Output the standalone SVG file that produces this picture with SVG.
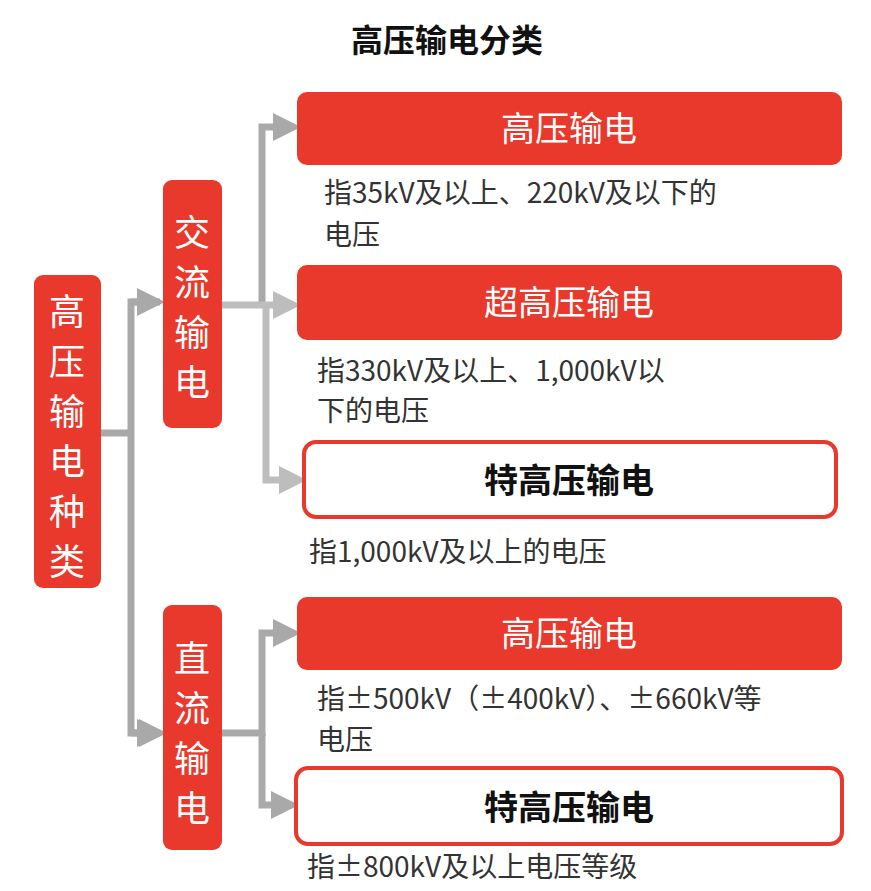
<svg xmlns="http://www.w3.org/2000/svg" width="871" height="891" viewBox="0 0 871 891">
<style>
.f{fill:#e8392c}
.o{fill:#fff;stroke:#e8392c;stroke-width:4}
text{font-family:"Noto Sans CJK SC","Liberation Sans",sans-serif}
.w{fill:#fff;font-size:34px;text-anchor:middle}
.b{fill:#111;font-size:34px;font-weight:bold;text-anchor:middle}
.d{fill:#333;font-size:28px}
.v{fill:#fff;font-size:36px;text-anchor:middle}
.c1{stroke:#a9a9a9;stroke-width:7;fill:none}
.c2{stroke:#bdbdbd;stroke-width:7;fill:none}
</style>
<defs>
<marker id="a" markerWidth="4" markerHeight="4" refX="3" refY="2" orient="auto"><path d="M0,0L4,2L0,4z" fill="#a9a9a9"/></marker>
<marker id="b" markerWidth="4" markerHeight="4" refX="3" refY="2" orient="auto"><path d="M0,0L4,2L0,4z" fill="#bdbdbd"/></marker>
</defs>
<rect width="871" height="891" fill="#fff"/>
<text x="447" y="52" font-size="32" font-weight="bold" text-anchor="middle" fill="#111">高压输电分类</text>
<g id="connectors">
<path class="c1" d="M101,433H131M131,433V302H160M131,433V733H160" marker-end="url(#a)"/>
<path class="c1" d="M131,302H158" marker-end="url(#a)"/>
<path class="c1" d="M131,733H158" marker-end="url(#a)"/>
<path class="c1" d="M262,305V127H294" marker-end="url(#a)"/>
<path class="c2" d="M222,305H294" marker-end="url(#b)"/>
<path class="c2" d="M266,305V480H300" marker-end="url(#b)"/>
<path class="c1" d="M222,733H262V633H294" marker-end="url(#a)"/>
<path class="c1" d="M262,733V805H292" marker-end="url(#a)"/>
</g>
<g id="root"><rect class="f" x="34" y="275" width="67" height="313" rx="9"/>
<text class="v" x="67" y="325">高</text><text class="v" x="67" y="375">压</text><text class="v" x="67" y="425">输</text><text class="v" x="67" y="475">电</text><text class="v" x="67" y="525">种</text><text class="v" x="67" y="575">类</text></g>
<g id="ac"><rect class="f" x="163" y="180" width="59" height="248" rx="9"/>
<text class="v" x="192" y="246">交</text><text class="v" x="192" y="296">流</text><text class="v" x="192" y="346">输</text><text class="v" x="192" y="396">电</text></g>
<g id="dc"><rect class="f" x="163" y="605" width="59" height="245" rx="9"/>
<text class="v" x="192" y="672">直</text><text class="v" x="192" y="722">流</text><text class="v" x="192" y="772">输</text><text class="v" x="192" y="822">电</text></g>
<g id="n1"><rect class="f" x="297" y="92" width="545" height="73" rx="10"/><text class="w" x="569" y="141">高压输电</text>
<text class="d" x="324" y="203">指35kV及以上、220kV及以下的</text><text class="d" x="324" y="245">电压</text></g>
<g id="n2"><rect class="f" x="297" y="265" width="545" height="75" rx="10"/><text class="w" x="569" y="315">超高压输电</text>
<text class="d" x="317" y="381">指330kV及以上、1,000kV以</text><text class="d" x="317" y="421">下的电压</text></g>
<g id="n3"><rect class="o" x="304" y="442" width="532" height="75" rx="12"/><text class="b" x="569" y="493">特高压输电</text>
<text class="d" x="309" y="562">指1,000kV及以上的电压</text></g>
<g id="n4"><rect class="f" x="297" y="597" width="545" height="73" rx="10"/><text class="w" x="569" y="646">高压输电</text>
<text class="d" x="317" y="709">指±500kV（±400kV）、±660kV等</text><text class="d" x="317" y="750">电压</text></g>
<g id="n5"><rect class="o" x="296" y="768" width="546" height="76" rx="12"/><text class="b" x="569" y="820">特高压输电</text>
<text class="d" x="307" y="877">指±800kV及以上电压等级</text></g>
</svg>
